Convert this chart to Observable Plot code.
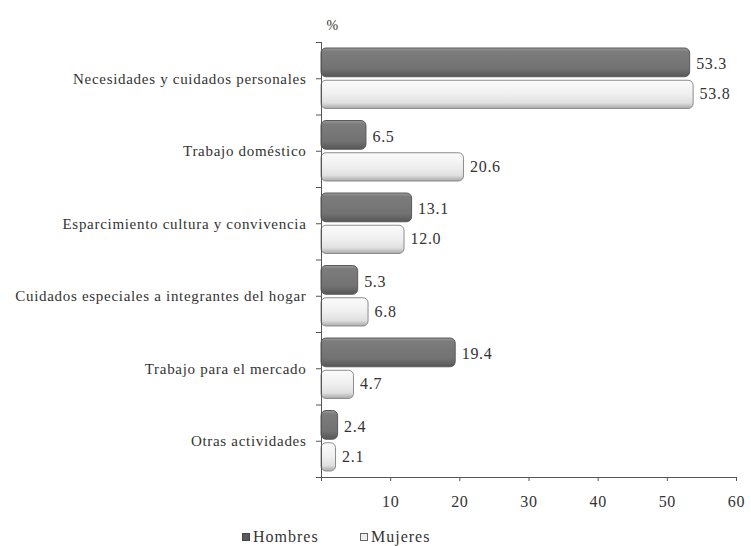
<!DOCTYPE html>
<html>
<head>
<meta charset="utf-8">
<script src="https://cdn.jsdelivr.net/npm/d3@7"></script>
<script src="https://cdn.jsdelivr.net/npm/@observablehq/plot@0.6"></script>
<style>
  body { margin: 0; background: #fff; color: #333; }
  #chart { width: 751px; height: 518px; }
  #legend { height: 28px; position: relative; color: #333; }
  .item { position: absolute; top: 10px; display: flex; align-items: center; font-size: 16px; letter-spacing: 1px; }
  .sw { width: 8px; height: 8px; margin-right: 3px; display: inline-block; box-sizing: border-box; }
</style>
</head>
<body>
<div id="chart"></div>
<div id="legend">
  <span class="item" style="left:242px"><span class="sw" style="background:#5a5a5a;border:1px solid #444"></span>Hombres</span>
  <span class="item" style="left:360px"><span class="sw" style="background:#eee;border:1px solid #666"></span>Mujeres</span>
</div>
<script>
const FONT = "'Liberation Serif', 'Times New Roman', serif";

const categories = [
  "Necesidades y cuidados personales",
  "Trabajo doméstico",
  "Esparcimiento cultura y convivencia",
  "Cuidados especiales a integrantes del hogar",
  "Trabajo para el mercado",
  "Otras actividades"
];
const series = ["Hombres", "Mujeres"];
const hombres = [53.3, 6.5, 13.1, 5.3, 19.4, 2.4];
const mujeres = [53.8, 20.6, 12.0, 6.8, 4.7, 2.1];
const xTicks = [0, 10, 20, 30, 40, 50, 60];

const rowsH = categories.map((c, i) => ({i, cat: c, sex: series[0], v: hombres[i]}));
const rowsM = categories.map((c, i) => ({i, cat: c, sex: series[1], v: mujeres[i]}));

const plot = Plot.plot({
  width: 751,
  height: 518,
  marginLeft: 321,
  marginRight: 15,
  marginTop: 42,
  marginBottom: 41,
  style: {fontSize: "15px", color: "#333", background: "#fff"},
  x: {domain: [0, 60]},
  y: {domain: [0, 6], reverse: true},
  marks: [
    Plot.rectX(rowsH, {x1: 0, x2: "v", y1: d => d.i, y2: d => d.i + 0.5, insetTop: 6, insetBottom: 1.5, rx: 5, fill: "url(#gH)", stroke: "#5a5a5a", strokeWidth: 1}),
    Plot.rectX(rowsM, {x1: 0, x2: "v", y1: d => d.i + 0.5, y2: d => d.i + 1, insetTop: 2, insetBottom: 6, rx: 5, fill: "url(#gM)", stroke: "#8c8c8c", strokeWidth: 1}),
    Plot.text(rowsH, {x: "v", y: d => d.i + 0.3, text: d => d.v.toFixed(1), dx: 6, textAnchor: "start", fontSize: 16, fill: "#333", fontFamily: FONT}),
    Plot.text(rowsM, {x: "v", y: d => d.i + 0.71, text: d => d.v.toFixed(1), dx: 6, textAnchor: "start", fontSize: 16, fill: "#333", fontFamily: FONT}),
    Plot.ruleX([0], {stroke: "#555"}),
    Plot.ruleY([6], {stroke: "#555"}),
    Plot.axisY(categories.map((c, i) => i + 0.5), {tickFormat: d => categories[Math.floor(d)], tickSize: 5, tickPadding: 10, fontSize: 15, fontFamily: FONT, label: null, stroke: "#555"}),
    Plot.axisY(categories.map((c, i) => i).concat([categories.length]), {tickFormat: () => "", tickSize: 5, label: null, stroke: "#555"}),
    Plot.axisX(xTicks, {tickFormat: d => d === 0 ? "" : String(d), tickSize: 4, tickPadding: 14, fontSize: 16, fontFamily: FONT, label: null, stroke: "#555"}),
    Plot.text(["%"], {frameAnchor: "top-left", text: d => d, dx: 5, dy: -22, textAnchor: "start", fontSize: 14, fill: "#333", fontFamily: FONT})
  ]
});

const svg = d3.select(plot);
const defs = svg.insert("defs", ":first-child");
const gH = defs.append("linearGradient").attr("id", "gH").attr("x1", 0).attr("y1", 0).attr("x2", 0).attr("y2", 1);
[[0, "#9a9a9a"], [0.12, "#7c7c7c"], [0.72, "#727272"], [1, "#565656"]].forEach(([o, c]) => gH.append("stop").attr("offset", o).attr("stop-color", c));
const gM = defs.append("linearGradient").attr("id", "gM").attr("x1", 0).attr("y1", 0).attr("x2", 0).attr("y2", 1);
[[0, "#fbfbfb"], [0.5, "#efefef"], [0.8, "#e0e0e0"], [1, "#a8a8a8"]].forEach(([o, c]) => gM.append("stop").attr("offset", o).attr("stop-color", c));

// serif lettering, slightly spaced like the original
svg.style("font-family", FONT);
svg.selectAll("text").style("font-family", FONT).style("letter-spacing", "0.7px");
document.querySelectorAll("#legend .item").forEach(el => el.style.fontFamily = FONT);

document.getElementById("chart").appendChild(plot);
</script>
</body>
</html>
